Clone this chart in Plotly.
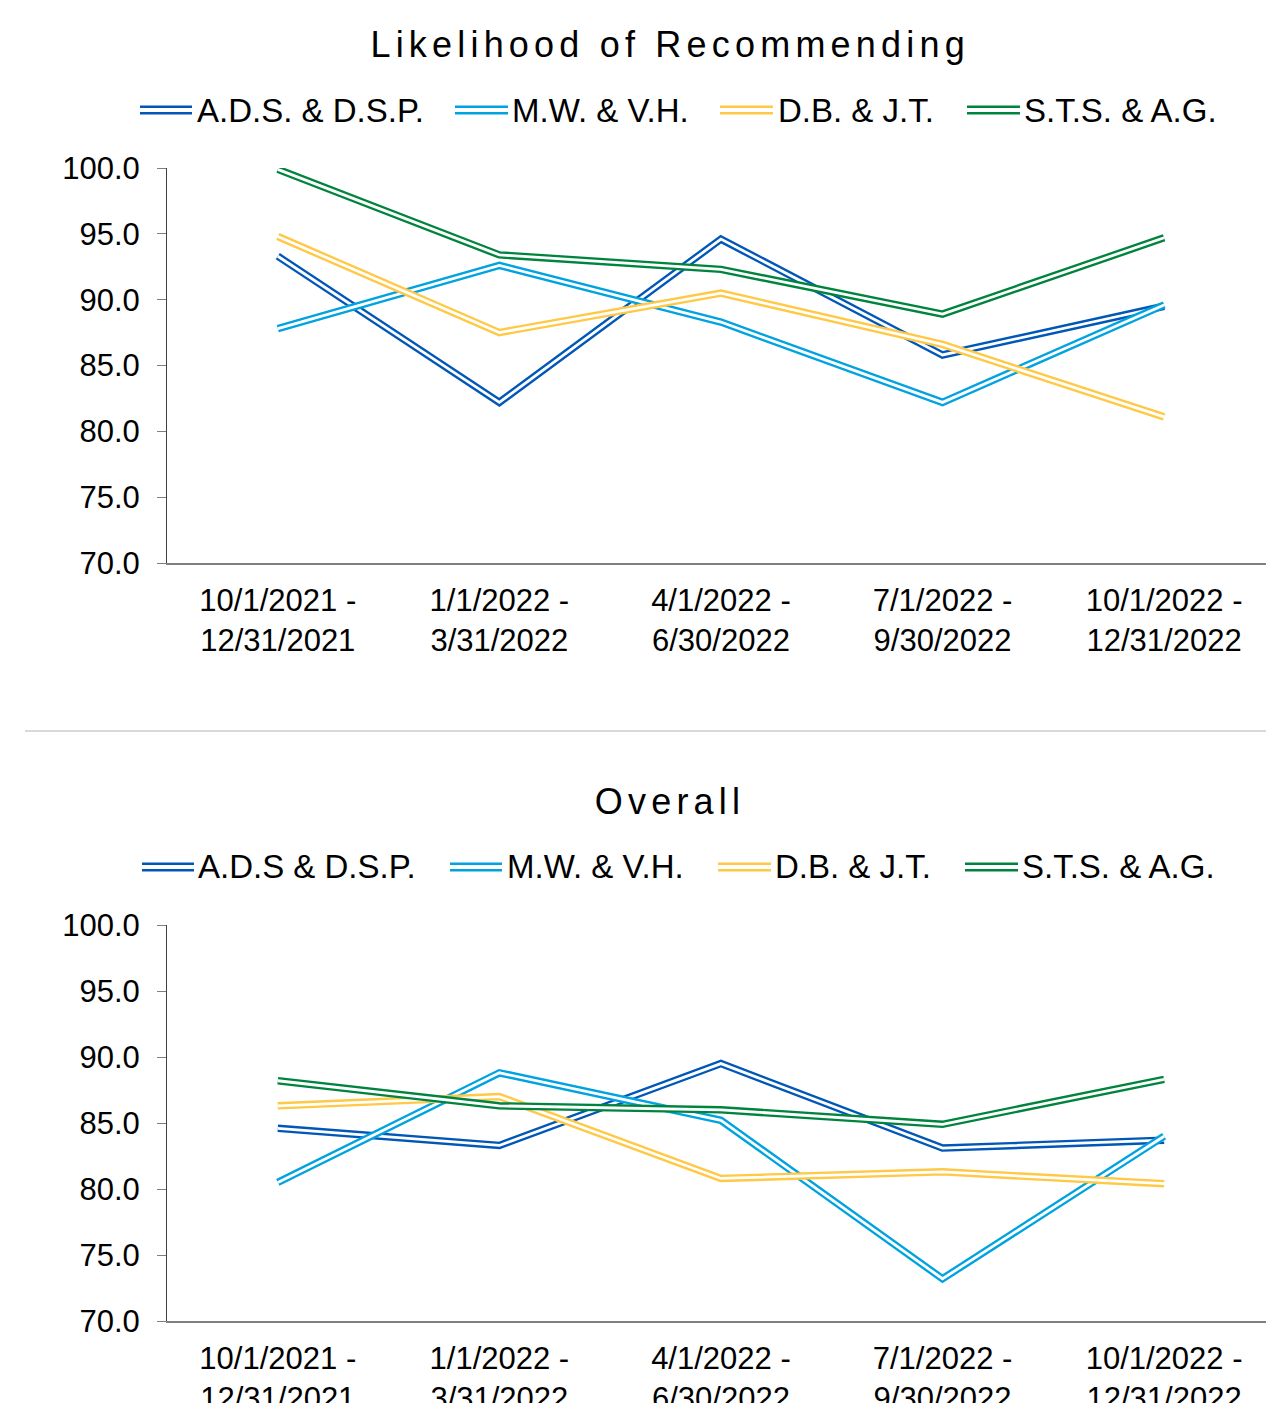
import plotly.graph_objects as go

# ---- data ----
categories = [0, 1, 2, 3, 4]
tick_labels = ["10/1/2021 -<br>12/31/2021", "1/1/2022 -<br>3/31/2022", "4/1/2022 -<br>6/30/2022",
               "7/1/2022 -<br>9/30/2022", "10/1/2022 -<br>12/31/2022"]
y_ticks = [70, 75, 80, 85, 90, 95, 100]

top_title = "Likelihood of Recommending"
top_names = ["A.D.S. & D.S.P.", "M.W. & V.H.", "D.B. & J.T.", "S.T.S. & A.G."]
lr_ads = [93.3, 82.2, 94.6, 85.8, 89.5]
lr_mw = [87.8, 92.6, 88.3, 82.2, 89.6]
lr_db = [94.8, 87.5, 90.5, 86.6, 81.1]
lr_sts = [99.9, 93.4, 92.3, 88.9, 94.7]

bottom_title = "Overall"
bottom_names = ["A.D.S & D.S.P.", "M.W. & V.H.", "D.B. & J.T.", "S.T.S. & A.G."]
ov_ads = [84.6, 83.3, 89.5, 83.1, 83.7]
ov_mw = [80.5, 88.8, 85.2, 73.2, 84.0]
ov_db = [86.3, 87.0, 80.8, 81.3, 80.4]
ov_sts = [88.2, 86.3, 86.0, 84.9, 88.3]

colors = ["#0057B8", "#00A3E0", "#FFC845", "#00843D"]

# ---- layout helpers ----
W, H = 1266, 1403
FONT = "Liberation Sans, Arial, sans-serif"


def px_x(p):
    return p / W


def px_y(p):
    return 1 - p / H


fig = go.Figure()

charts = [
    dict(title=top_title, names=top_names, series=[lr_ads, lr_mw, lr_db, lr_sts],
         xa="x", ya="y", top=168, bottom=563, title_y=44, leg_y=110,
         leg_sym=[(140, 192), (455, 508), (720, 773), (967, 1020)],
         leg_txt=[195, 510, 776, 1022]),
    dict(title=bottom_title, names=bottom_names, series=[ov_ads, ov_mw, ov_db, ov_sts],
         xa="x2", ya="y2", top=925, bottom=1321, title_y=801, leg_y=867,
         leg_sym=[(142, 194), (450, 502), (718, 771), (965, 1018)],
         leg_txt=[196, 505, 773, 1020]),
]

annotations = []
shapes = []
for ci, ch in enumerate(charts):
    for si, vals in enumerate(ch["series"]):
        fig.add_trace(go.Scatter(x=categories, y=vals, mode="lines", name=ch["names"][si],
                                 line=dict(color=colors[si], width=7.5),
                                 xaxis=ch["xa"], yaxis=ch["ya"], showlegend=False))
        fig.add_trace(go.Scatter(x=categories, y=vals, mode="lines",
                                 line=dict(color="white", width=2.8),
                                 xaxis=ch["xa"], yaxis=ch["ya"], showlegend=False,
                                 hoverinfo="skip"))
    # title
    annotations.append(dict(text=ch["title"], x=px_x(670), y=px_y(ch["title_y"]),
                            xref="paper", yref="paper", xanchor="center", yanchor="middle",
                            showarrow=False, font=dict(family=FONT, size=36, color="black")))
    # legend
    for si, name in enumerate(ch["names"]):
        x0, x1 = ch["leg_sym"][si]
        for dy in (-3.2, 3.2):
            shapes.append(dict(type="line", xref="paper", yref="paper",
                               x0=px_x(x0), x1=px_x(x1),
                               y0=px_y(ch["leg_y"] + dy), y1=px_y(ch["leg_y"] + dy),
                               line=dict(color=colors[si], width=2.6)))
        annotations.append(dict(text=name, x=px_x(ch["leg_txt"][si]), y=px_y(ch["leg_y"]),
                                xref="paper", yref="paper", xanchor="left", yanchor="middle",
                                showarrow=False, font=dict(family=FONT, size=33, color="black")))

# separator line between the two charts
shapes.append(dict(type="line", xref="paper", yref="paper", x0=px_x(25), x1=1,
                   y0=px_y(731), y1=px_y(731), line=dict(color="#D9D9D9", width=2)))

xaxis_common = dict(range=[-0.5, 4.46], tickmode="array", tickvals=categories, ticktext=tick_labels,
                    showline=True, linecolor="#7F7F7F", linewidth=1.5, ticks="", showgrid=False,
                    zeroline=False, automargin=False, ticklabelstandoff=9,
                    tickfont=dict(family=FONT, size=31, color="black"),
                    domain=[px_x(167), 1])
yaxis_common = dict(range=[70, 100], tickmode="array", tickvals=y_ticks, tickformat=".1f",
                    showline=True, linecolor="#404040", linewidth=1, ticks="outside", ticklen=9,
                    tickcolor="#7F7F7F", tickwidth=1, showgrid=False, zeroline=False,
                    automargin=False, ticklabelstandoff=11,
                    tickfont=dict(family=FONT, size=31, color="black"))

fig.update_layout(
    width=W, height=H, autosize=False,
    margin=dict(l=0, r=0, t=0, b=0, pad=0),
    paper_bgcolor="white", plot_bgcolor="white",
    xaxis=dict(**xaxis_common, anchor="y"),
    yaxis=dict(**yaxis_common, anchor="x", domain=[px_y(563), px_y(168)]),
    xaxis2=dict(**xaxis_common, anchor="y2"),
    yaxis2=dict(**yaxis_common, anchor="x2", domain=[px_y(1321), px_y(925)]),
    annotations=annotations, shapes=shapes,
    font=dict(family=FONT),
)

post = """
document.body.style.margin = '0';
document.body.style.overflow = 'hidden';
var gd = document.getElementById('{plot_id}');
function ls(){
  gd.querySelectorAll('.annotation-text').forEach(function(t){
    if (t.textContent === 'Likelihood of Recommending' || t.textContent === 'Overall') {
      t.style.letterSpacing = '5.2px';
    }
  });
}
ls();
gd.on('plotly_afterplot', ls);
"""

fig.write_html("out.html", post_script=post, config={"displayModeBar": False})
